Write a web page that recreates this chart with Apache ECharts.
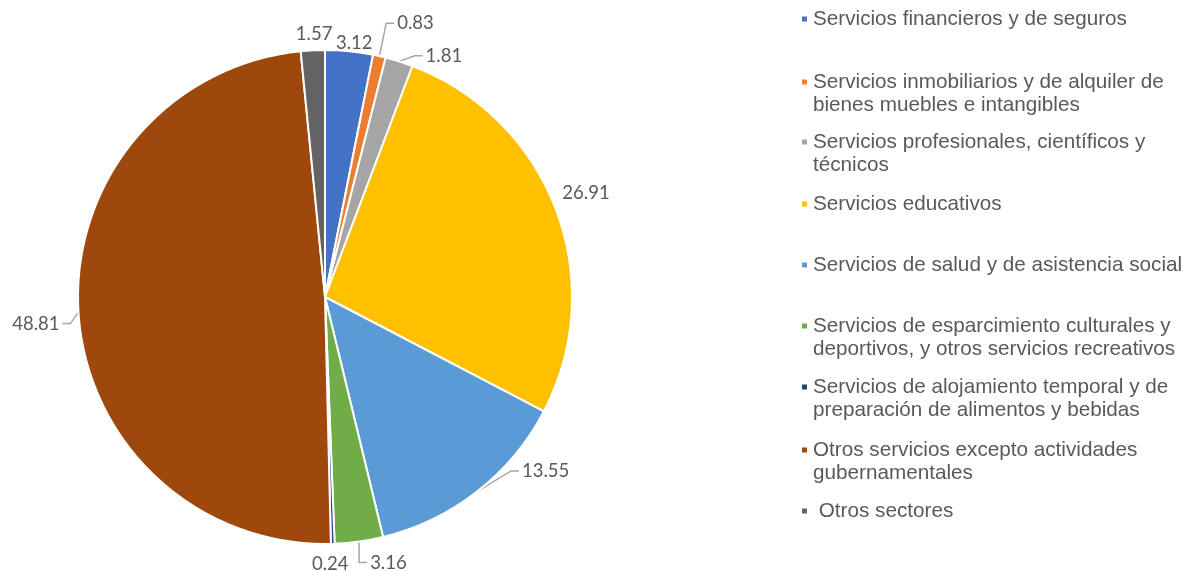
<!DOCTYPE html>
<html>
<head>
<meta charset="utf-8">
<script src="https://cdn.jsdelivr.net/npm/echarts@6/dist/echarts.min.js"></script>
<style>html,body{margin:0;padding:0;background:#fff;}#c{width:1186px;height:571px;}</style>
</head>
<body>
<div id="c"></div>
<script>
const categories = [
  'Servicios financieros y de seguros',
  'Servicios inmobiliarios y de alquiler de\nbienes muebles e intangibles',
  'Servicios profesionales, científicos y\ntécnicos',
  'Servicios educativos',
  'Servicios de salud y de asistencia social',
  'Servicios de esparcimiento culturales y\ndeportivos, y otros servicios recreativos',
  'Servicios de alojamiento temporal y de\npreparación de alimentos y bebidas',
  'Otros servicios excepto actividades\ngubernamentales',
  ' Otros sectores'
];
const values = [3.12, 0.83, 1.81, 26.91, 13.55, 3.16, 0.24, 48.81, 1.57];
const colors = ['#4472C4', '#ED7D31', '#A5A5A5', '#FFC000', '#5B9BD5', '#70AD47', '#264478', '#9E480E', '#636363'];

// styling / placement tweaks (not data)
const showLine = [false, true, true, false, true, true, false, true, false];
const labelShift = [[-27, 0], [3, -25], [11, 2], [-14, -13], [27, -27], [-3, 13], [-34, 12], [2, 11], [33, -8]];
const legendTops = [19, 82, 142, 204, 265, 326, 387, 450, 511];

const chart = echarts.init(document.getElementById('c'));
const iconSingle = 'rect';
const iconMulti = 'path://M0,0h7v7h-7zM0,29.95h0.05v0.05h-0.05z';
const legends = categories.map((name, i) => {
  const multi = name.indexOf('\n') >= 0;
  return {
    data: [{ name: name, icon: multi ? iconMulti : iconSingle }],
    left: 800,
    top: legendTops[i] - 11.5,
    padding: 0,
    itemWidth: 7,
    itemHeight: multi ? 30 : 7,
    selectedMode: false,
    textStyle: {
      fontFamily: 'Liberation Sans, Arial, sans-serif',
      fontSize: 20.7,
      color: '#595959',
      lineHeight: 23
    }
  };
});

function layoutLabel(p) {
  const s = labelShift[p.dataIndex];
  const out = { dx: s[0], dy: s[1] };
  const pts = p.labelLinePoints;
  if (showLine[p.dataIndex] && pts && pts.length) {
    const r = p.labelRect;
    const nx = r.x + s[0], ny = r.y + s[1];
    const cy = ny + r.height / 2;
    const p0 = [pts[0][0], pts[0][1]];
    const toRight = (nx + r.width / 2) > p0[0];
    const endX = toRight ? nx - 3 : nx + r.width + 3;
    const midX = toRight ? endX - 8 : endX + 8;
    out.labelLinePoints = [p0, [midX, cy], [endX, cy]];
  }
  return out;
}

chart.setOption({
  animation: false,
  color: colors,
  legend: legends,
  series: [{
    type: 'pie',
    center: [325, 297],
    radius: [0, 247],
    startAngle: 90,
    clockwise: true,
    avoidLabelOverlap: false,
    itemStyle: { borderColor: '#fff', borderWidth: 2 },
    label: {
      show: true,
      position: 'outside',
      formatter: p => p.value.toFixed(2),
      fontFamily: 'Lato, Carlito, sans-serif',
      fontSize: 18.5,
      color: '#595959'
    },
    labelLine: { show: true, length: 8, length2: 8, lineStyle: { color: '#A6A6A6', width: 1.5 } },
    labelLayout: layoutLabel,
    data: categories.map((n, i) => ({
      name: n,
      value: values[i],
      labelLine: { show: showLine[i] }
    }))
  }]
});
</script>
</body>
</html>
